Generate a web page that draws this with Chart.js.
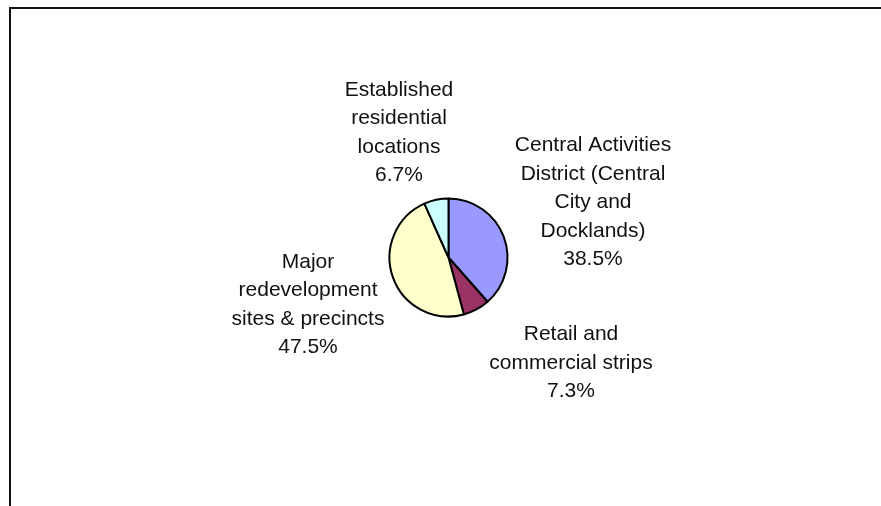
<!DOCTYPE html>
<html lang="en">
  <head>
    <meta charset="UTF-8" />
    <script src="https://cdn.jsdelivr.net/npm/chart.js@4.4.0/dist/chart.umd.min.js"></script>
    <title>Share by location</title>
    <style>
      body { margin: 0; background: #fff; }
    </style>
  </head>
  <body>
    <canvas id="myChart" width="881" height="506"></canvas>

    <script>
      const categories = [
        "Central Activities District (Central City and Docklands)",
        "Retail and commercial strips",
        "Major redevelopment sites & precincts",
        "Established residential locations",
      ];
      const shares = [38.5, 7.3, 47.5, 6.7];
      // how each label wraps, as in the original
      const labelLines = [
        ["Central Activities", "District (Central", "City and", "Docklands)"],
        ["Retail and", "commercial strips"],
        ["Major", "redevelopment", "sites & precincts"],
        ["Established", "residential", "locations"],
      ];
      const colours = ["#9999FF", "#993366", "#FFFFCC", "#CCFFFF"];
      // label block centre, relative to the pie centre
      const labelOffsets = [
        [144.5, -55],
        [122.5, 105.5],
        [-140.5, 47],
        [-49.5, -125],
      ];

      // frame lines and data labels
      const extras = {
        id: "extras",
        beforeDraw(chart) {
          const c = chart.ctx;
          c.save();
          c.fillStyle = "#111";
          c.fillRect(9, 7, chart.width - 9, 2);
          c.fillRect(9, 7, 2, chart.height - 7);
          c.restore();
        },
        afterDatasetsDraw(chart) {
          const c = chart.ctx;
          const arcs = chart.getDatasetMeta(0).data;
          c.save();
          c.fillStyle = "#111";
          c.font = '21px "Liberation Sans", Arial, sans-serif';
          c.textAlign = "center";
          c.textBaseline = "middle";
          const lh = 28.5;
          arcs.forEach((arc, i) => {
            const lines = labelLines[i].concat([shares[i].toFixed(1) + "%"]);
            const cx = arc.x + labelOffsets[i][0];
            const cy = arc.y + labelOffsets[i][1];
            const top = cy - ((lines.length - 1) * lh) / 2;
            lines.forEach((t, k) => c.fillText(t, cx, top + k * lh));
          });
          c.restore();
        },
      };

      const ctx = document.getElementById("myChart").getContext("2d");
      const myChart = new Chart(ctx, {
        type: "pie",
        data: {
          labels: categories,
          datasets: [
            {
              data: shares,
              backgroundColor: colours,
              borderColor: "#000",
              borderWidth: 2,
            },
          ],
        },
        options: {
          responsive: false,
          animation: false,
          layout: {
            padding: { left: 388.5, right: 372.5, top: 197.5, bottom: 188.5 },
          },
          plugins: {
            legend: { display: false },
            tooltip: { enabled: false },
          },
        },
        plugins: [extras],
      });
    </script>
  </body>
</html>
